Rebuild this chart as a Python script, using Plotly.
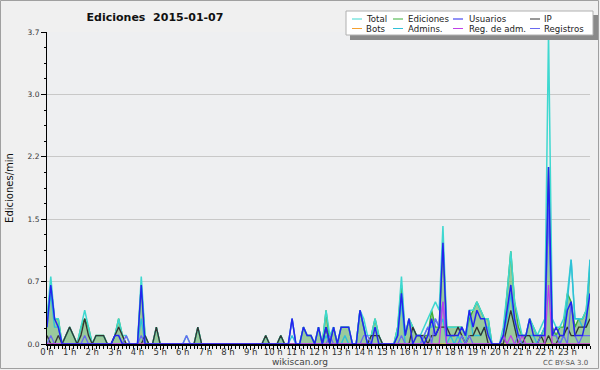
import plotly.graph_objects as go

# ---------------- data (10-minute steps, 00:00 .. 24:00) ----------------
minutes = list(range(0, 1441, 10))

total = [
    0.3, 0.8, 0.3, 0.3, 0.0, 0.1,
    0.2, 0.1, 0.0, 0.2, 0.4, 0.2,
    0.0, 0.1, 0.1, 0.1, 0.0, 0.0,
    0.1, 0.3, 0.1, 0.1, 0.0, 0.0,
    0.0, 0.8, 0.1, 0.0, 0.0, 0.2,
    0.0, 0.0, 0.0, 0.0, 0.0, 0.0,
    0.0, 0.1, 0.0, 0.0, 0.2, 0.0,
    0.0, 0.0, 0.0, 0.0, 0.0, 0.0,
    0.0, 0.0, 0.0, 0.0, 0.0, 0.0,
    0.0, 0.0, 0.0, 0.0, 0.1, 0.0,
    0.0, 0.0, 0.1, 0.0, 0.0, 0.3,
    0.0, 0.0, 0.2, 0.1, 0.1, 0.0,
    0.2, 0.0, 0.4, 0.1, 0.2, 0.0,
    0.2, 0.2, 0.2, 0.0, 0.0, 0.4,
    0.3, 0.1, 0.1, 0.3, 0.1, 0.0,
    0.0, 0.0, 0.0, 0.2, 0.8, 0.1,
    0.3, 0.2, 0.1, 0.1, 0.2, 0.3,
    0.4, 0.5, 0.4, 1.4, 0.2, 0.2,
    0.2, 0.2, 0.2, 0.1, 0.4, 0.4,
    0.5, 0.4, 0.3, 0.3, 0.0, 0.0,
    0.0, 0.2, 0.6, 1.1, 0.5, 0.3,
    0.1, 0.1, 0.3, 0.2, 0.1, 0.2,
    0.3, 3.7, 0.3, 0.2, 0.2, 0.3,
    0.6, 1.0, 0.3, 0.3, 0.3, 0.4,
    1.0,
]

ediciones = [
    0.3, 0.7, 0.3, 0.3, 0.0, 0.1,
    0.2, 0.1, 0.0, 0.2, 0.3, 0.2,
    0.0, 0.1, 0.1, 0.1, 0.0, 0.0,
    0.1, 0.3, 0.1, 0.0, 0.0, 0.0,
    0.0, 0.7, 0.1, 0.0, 0.0, 0.2,
    0.0, 0.0, 0.0, 0.0, 0.0, 0.0,
    0.0, 0.0, 0.0, 0.0, 0.2, 0.0,
    0.0, 0.0, 0.0, 0.0, 0.0, 0.0,
    0.0, 0.0, 0.0, 0.0, 0.0, 0.0,
    0.0, 0.0, 0.0, 0.0, 0.1, 0.0,
    0.0, 0.0, 0.1, 0.0, 0.0, 0.0,
    0.0, 0.0, 0.2, 0.1, 0.1, 0.0,
    0.2, 0.0, 0.4, 0.0, 0.2, 0.0,
    0.2, 0.2, 0.2, 0.0, 0.0, 0.4,
    0.2, 0.0, 0.1, 0.3, 0.1, 0.0,
    0.0, 0.0, 0.0, 0.2, 0.7, 0.1,
    0.3, 0.2, 0.1, 0.1, 0.1, 0.1,
    0.4, 0.2, 0.2, 1.2, 0.2, 0.2,
    0.2, 0.2, 0.2, 0.1, 0.3, 0.4,
    0.5, 0.4, 0.3, 0.3, 0.0, 0.0,
    0.0, 0.1, 0.6, 1.1, 0.5, 0.2,
    0.1, 0.1, 0.3, 0.2, 0.1, 0.1,
    0.2, 2.1, 0.2, 0.1, 0.2, 0.2,
    0.6, 0.5, 0.2, 0.3, 0.3, 0.4,
    0.9,
]

usuarios = [
    0.2, 0.7, 0.3, 0.2, 0.0, 0.0,
    0.0, 0.0, 0.0, 0.0, 0.0, 0.0,
    0.0, 0.0, 0.0, 0.0, 0.0, 0.0,
    0.1, 0.1, 0.0, 0.0, 0.0, 0.0,
    0.0, 0.7, 0.0, 0.0, 0.0, 0.0,
    0.0, 0.0, 0.0, 0.0, 0.0, 0.0,
    0.0, 0.0, 0.0, 0.0, 0.0, 0.0,
    0.0, 0.0, 0.0, 0.0, 0.0, 0.0,
    0.0, 0.0, 0.0, 0.0, 0.0, 0.0,
    0.0, 0.0, 0.0, 0.0, 0.0, 0.0,
    0.0, 0.0, 0.0, 0.0, 0.0, 0.3,
    0.0, 0.0, 0.2, 0.1, 0.1, 0.0,
    0.2, 0.0, 0.2, 0.0, 0.2, 0.0,
    0.2, 0.2, 0.2, 0.0, 0.0, 0.4,
    0.2, 0.0, 0.0, 0.2, 0.0, 0.0,
    0.0, 0.0, 0.0, 0.1, 0.6, 0.1,
    0.3, 0.0, 0.1, 0.1, 0.0, 0.1,
    0.3, 0.1, 0.2, 1.2, 0.1, 0.1,
    0.1, 0.1, 0.2, 0.1, 0.4, 0.2,
    0.4, 0.3, 0.3, 0.1, 0.0, 0.0,
    0.0, 0.1, 0.4, 0.7, 0.3, 0.1,
    0.1, 0.1, 0.3, 0.1, 0.1, 0.1,
    0.1, 2.1, 0.1, 0.2, 0.1, 0.1,
    0.4, 0.5, 0.1, 0.1, 0.1, 0.3,
    0.6,
]

ip = [
    0.1, 0.0, 0.0, 0.1, 0.0, 0.1,
    0.2, 0.1, 0.0, 0.1, 0.3, 0.1,
    0.0, 0.1, 0.1, 0.1, 0.0, 0.0,
    0.1, 0.2, 0.1, 0.0, 0.0, 0.0,
    0.0, 0.0, 0.1, 0.0, 0.0, 0.2,
    0.0, 0.0, 0.0, 0.0, 0.0, 0.0,
    0.0, 0.0, 0.0, 0.0, 0.2, 0.0,
    0.0, 0.0, 0.0, 0.0, 0.0, 0.0,
    0.0, 0.0, 0.0, 0.0, 0.0, 0.0,
    0.0, 0.0, 0.0, 0.0, 0.1, 0.0,
    0.0, 0.0, 0.1, 0.0, 0.0, 0.0,
    0.0, 0.0, 0.0, 0.0, 0.0, 0.0,
    0.0, 0.0, 0.2, 0.0, 0.0, 0.0,
    0.0, 0.0, 0.0, 0.0, 0.0, 0.0,
    0.0, 0.0, 0.1, 0.1, 0.1, 0.0,
    0.0, 0.0, 0.0, 0.0, 0.0, 0.0,
    0.0, 0.2, 0.1, 0.1, 0.1, 0.0,
    0.1, 0.1, 0.2, 0.2, 0.2, 0.1,
    0.1, 0.2, 0.1, 0.0, 0.1, 0.1,
    0.2, 0.1, 0.2, 0.0, 0.0, 0.0,
    0.0, 0.0, 0.2, 0.4, 0.2, 0.0,
    0.0, 0.1, 0.1, 0.0, 0.0, 0.1,
    0.0, 0.1, 0.0, 0.0, 0.1, 0.1,
    0.2, 0.1, 0.1, 0.2, 0.2, 0.2,
    0.3,
]

bots = [0.0] * 145

admins = [
    0.2, 0.6, 0.2, 0.2, 0.0, 0.0,
    0.0, 0.0, 0.0, 0.0, 0.0, 0.0,
    0.0, 0.0, 0.0, 0.0, 0.0, 0.0,
    0.0, 0.0, 0.0, 0.0, 0.0, 0.0,
    0.0, 0.3, 0.0, 0.0, 0.0, 0.0,
    0.0, 0.0, 0.0, 0.0, 0.0, 0.0,
    0.0, 0.0, 0.0, 0.0, 0.0, 0.0,
    0.0, 0.0, 0.0, 0.0, 0.0, 0.0,
    0.0, 0.0, 0.0, 0.0, 0.0, 0.0,
    0.0, 0.0, 0.0, 0.0, 0.0, 0.0,
    0.0, 0.0, 0.0, 0.0, 0.0, 0.1,
    0.0, 0.0, 0.0, 0.0, 0.0, 0.0,
    0.0, 0.0, 0.1, 0.0, 0.0, 0.0,
    0.0, 0.1, 0.0, 0.0, 0.0, 0.4,
    0.2, 0.0, 0.0, 0.0, 0.0, 0.0,
    0.0, 0.0, 0.0, 0.1, 0.5, 0.0,
    0.0, 0.0, 0.0, 0.0, 0.1, 0.2,
    0.2, 0.3, 0.2, 0.3, 0.0, 0.1,
    0.0, 0.1, 0.0, 0.0, 0.4, 0.1,
    0.1, 0.1, 0.2, 0.2, 0.0, 0.0,
    0.0, 0.1, 0.3, 0.6, 0.2, 0.1,
    0.0, 0.1, 0.1, 0.1, 0.0, 0.1,
    0.2, 1.6, 0.1, 0.1, 0.0, 0.1,
    0.5, 1.0, 0.3, 0.3, 0.2, 0.2,
    1.0,
]

reg_adm = [0.0] * 102 + [
    0.0, 0.0, 0.0, 0.5, 0.0, 0.0,
    0.0, 0.0, 0.0, 0.0, 0.0, 0.0,
    0.0, 0.0, 0.0, 0.0, 0.0, 0.0,
    0.0, 0.1, 0.0, 0.1, 0.0, 0.0,
    0.1, 0.0, 0.0, 0.0, 0.0, 0.0,
    0.0, 0.7, 0.0, 0.0, 0.0, 0.0,
    0.0, 0.0, 0.0, 0.0, 0.0, 0.0,
    0.0,
]

registros = [
    0.0, 0.1, 0.0, 0.0, 0.0, 0.0,
    0.0, 0.0, 0.0, 0.0, 0.1, 0.0,
    0.0, 0.0, 0.0, 0.0, 0.0, 0.0,
    0.0, 0.0, 0.0, 0.1, 0.0, 0.0,
    0.0, 0.1, 0.0, 0.0, 0.0, 0.0,
    0.0, 0.0, 0.0, 0.0, 0.0, 0.0,
    0.0, 0.1, 0.0, 0.0, 0.0, 0.0,
    0.0, 0.0, 0.0, 0.0, 0.0, 0.0,
    0.0, 0.0, 0.0, 0.0, 0.0, 0.0,
    0.0, 0.0, 0.0, 0.0, 0.0, 0.0,
    0.0, 0.0, 0.0, 0.0, 0.0, 0.3,
    0.0, 0.0, 0.0, 0.0, 0.0, 0.0,
    0.0, 0.0, 0.0, 0.1, 0.0, 0.0,
    0.0, 0.0, 0.0, 0.0, 0.0, 0.0,
    0.1, 0.1, 0.0, 0.0, 0.0, 0.0,
    0.0, 0.0, 0.0, 0.0, 0.1, 0.0,
    0.0, 0.0, 0.0, 0.0, 0.1, 0.2,
    0.0, 0.3, 0.2, 0.5, 0.0, 0.0,
    0.0, 0.0, 0.1, 0.0, 0.1, 0.0,
    0.0, 0.0, 0.0, 0.0, 0.0, 0.0,
    0.0, 0.1, 0.0, 0.0, 0.0, 0.1,
    0.0, 0.0, 0.0, 0.0, 0.0, 0.1,
    0.1, 1.6, 0.1, 0.1, 0.0, 0.1,
    0.0, 0.5, 0.1, 0.0, 0.1, 0.1,
    0.1,
]

hour_ticks = [0, 60, 120, 180, 240, 300, 360, 420, 480, 540, 600, 660,
              720, 780, 840, 900, 960, 1020, 1080, 1140, 1200, 1260, 1320, 1380]
hour_labels = ["0 h", "1 h", "2 h", "3 h", "4 h", "5 h", "6 h", "7 h", "8 h",
               "9 h", "10 h", "11 h", "12 h", "13 h", "14 h", "15 h", "16 h",
               "17 h", "18 h", "19 h", "20 h", "21 h", "22 h", "23 h"]
y_ticks = [0.0, 0.74, 1.48, 2.22, 2.96, 3.7]
y_labels = ["0.0", "0.7", "1.5", "2.2", "3.0", "3.7"]

title_text = "Ediciones\u00a0\u00a02015-01-07"
y_title = "Ediciones/min"

# ---------------- styling ----------------
C_TOTAL = "#3ed8d0"
C_EDIC = "#3aaf3a"
C_USU = "#2424ee"
C_IP = "#333333"
C_BOTS = "#f5a030"
C_ADM = "#30c0d8"
C_REGADM = "#c040e8"
C_REG = "#6a6af0"
FONT = "DejaVu Sans"

# pixel geometry of the plot area
L, R, T, B = 47, 590, 32, 344
W, H = 600, 370


def px(xp):
    return (xp - L) / (R - L)


def py(yp):
    return (B - yp) / (B - T)


fig = go.Figure()
fig.add_trace(go.Scatter(x=minutes, y=ediciones, name="Ediciones", mode="lines",
                         line=dict(color=C_EDIC, width=1.4), fill="tozeroy",
                         fillcolor="rgba(70,165,72,0.50)", showlegend=False))
fig.add_trace(go.Scatter(x=minutes, y=total, name="Total", mode="lines",
                         line=dict(color=C_TOTAL, width=1.5), showlegend=False))
fig.add_trace(go.Scatter(x=minutes, y=bots, name="Bots", mode="lines",
                         line=dict(color=C_BOTS, width=1.2), showlegend=False))
fig.add_trace(go.Scatter(x=minutes, y=admins, name="Admins.", mode="lines",
                         line=dict(color=C_ADM, width=1.4), showlegend=False))
fig.add_trace(go.Scatter(x=minutes, y=ip, name="IP", mode="lines",
                         line=dict(color=C_IP, width=1.3), showlegend=False))
fig.add_trace(go.Scatter(x=minutes, y=registros, name="Registros", mode="lines",
                         line=dict(color=C_REG, width=1.3), showlegend=False))
fig.add_trace(go.Scatter(x=minutes, y=reg_adm, name="Reg. de adm.", mode="lines",
                         line=dict(color=C_REGADM, width=1.3), showlegend=False))
fig.add_trace(go.Scatter(x=minutes, y=usuarios, name="Usuarios", mode="lines",
                         line=dict(color=C_USU, width=1.5), showlegend=False))

shapes = []
annotations = []

# outer frame
shapes.append(dict(type="rect", xref="paper", yref="paper",
                   x0=px(0.5), x1=px(598.5), y0=py(368.5), y1=py(0.5),
                   line=dict(color="#a0a0a0", width=1), layer="below"))

# legend box with shadow
shapes.append(dict(type="rect", xref="paper", yref="paper",
                   x0=px(350), x1=px(598), y0=py(40), y1=py(15),
                   line=dict(width=0), fillcolor="#8a8a8a", layer="above"))
shapes.append(dict(type="rect", xref="paper", yref="paper",
                   x0=px(346), x1=px(593), y0=py(35), y1=py(11),
                   line=dict(color="#b0b0b0", width=1), fillcolor="#ffffff",
                   layer="above"))

legend_items = [
    ("Total", C_TOTAL, 352, 366, 19),
    ("Ediciones", C_EDIC, 393, 408, 19),
    ("Usuarios", C_USU, 453, 469, 19),
    ("IP", C_IP, 530, 544, 19),
    ("Bots", C_BOTS, 352, 366, 28.5),
    ("Admins.", C_ADM, 393, 408, 28.5),
    ("Reg. de adm.", C_REGADM, 453, 469, 28.5),
    ("Registros", C_REG, 530, 544, 28.5),
]
for name, col, lx, tx, ly in legend_items:
    shapes.append(dict(type="line", xref="paper", yref="paper",
                       x0=px(lx), x1=px(lx + 10), y0=py(ly), y1=py(ly),
                       line=dict(color=col, width=1), layer="above"))
    annotations.append(dict(text=name, xref="paper", yref="paper",
                            x=px(tx - 1), y=py(ly), xanchor="left", yanchor="middle",
                            showarrow=False, borderpad=0,
                            font=dict(family=FONT, size=8.6, color="#222")))

annotations.append(dict(text="wikiscan.org", xref="paper", yref="paper",
                        x=px(300), y=py(361.5), xanchor="center", yanchor="middle",
                        showarrow=False, font=dict(family=FONT, size=9, color="#444")))
annotations.append(dict(text="CC BY-SA 3.0", xref="paper", yref="paper",
                        x=px(590), y=py(363), xanchor="right", yanchor="middle",
                        showarrow=False, font=dict(family=FONT, size=7, color="#555")))

fig.update_layout(
    width=W, height=H,
    margin=dict(l=L, r=W - R, t=T, b=H - B, pad=0),
    paper_bgcolor="#f0f0f0",
    plot_bgcolor="#eeeff1",
    showlegend=False,
    title=dict(text=title_text, x=155 / W, xanchor="center", xref="container",
               y=1 - 17 / H, yanchor="middle", yref="container",
               font=dict(family=FONT, size=11, color="#111", weight="bold")),
    xaxis=dict(range=[0, 1440], tickmode="array", tickvals=hour_ticks, ticktext=hour_labels,
               showline=True, linecolor="#000", linewidth=1.5, ticks="outside",
               ticklen=4, tickcolor="#000", tickwidth=1, showgrid=False, zeroline=False,
               ticklabelstandoff=-5,
               tickfont=dict(family=FONT, size=8.5, color="#333"),
               minor=dict(dtick=10, tick0=0, ticks="outside", ticklen=3,
                          tickcolor="#000", tickwidth=1, showgrid=False)),
    yaxis=dict(range=[0, 3.7], tickmode="array", tickvals=y_ticks, ticktext=y_labels,
               showline=True, linecolor="#000", linewidth=1, ticks="outside",
               ticklen=5, tickcolor="#000", tickwidth=1, showgrid=True,
               gridcolor="#c8c8c8", gridwidth=1, zeroline=False,
               tickfont=dict(family=FONT, size=7.5, color="#333"),
               title=dict(text=y_title, font=dict(family=FONT, size=10, color="#111"),
                          standoff=12),
               minor=dict(dtick=0.185, tick0=0, ticks="outside", ticklen=2,
                          tickcolor="#000", tickwidth=1, showgrid=False)),
    shapes=shapes,
    annotations=annotations,
)

fig.write_html("out.html")
